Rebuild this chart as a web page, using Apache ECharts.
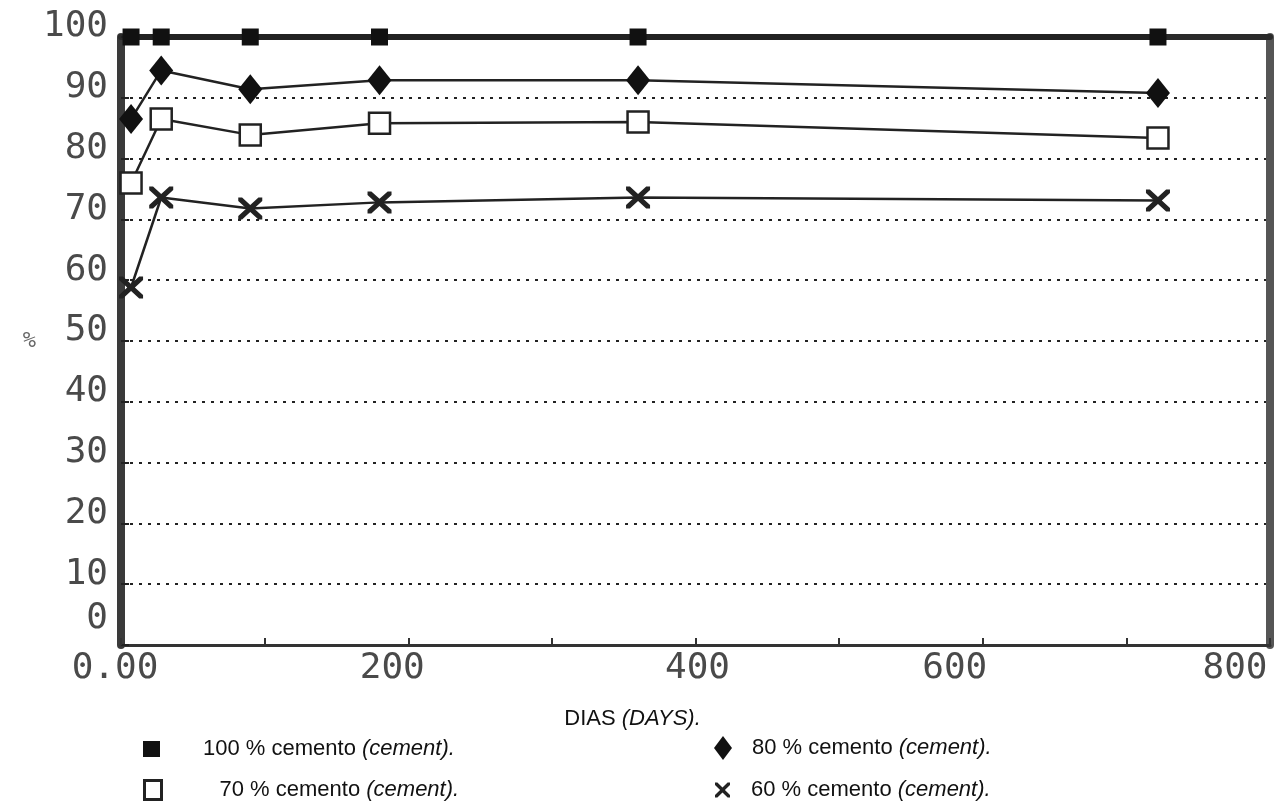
<!DOCTYPE html>
<html>
<head>
<meta charset="utf-8">
<script src="https://cdn.jsdelivr.net/npm/echarts@6/dist/echarts.min.js"></script>
<style>
  html, body { margin: 0; padding: 0; background: #fff; }
  #chart { width: 1278px; height: 808px; }
</style>
</head>
<body>
<div id="chart"></div>
<script>
// ---- data ----
const days = [7, 28, 90, 180, 360, 722];
const cem100 = [100, 100, 100, 100, 100, 100];
const cem80 = [86.5, 94.5, 91.4, 92.9, 92.9, 90.8];
const cem70 = [76.0, 86.5, 83.9, 85.8, 86.0, 83.4];
const cem60 = [58.8, 73.6, 71.8, 72.8, 73.6, 73.1];
const seriesNames = ['100 % cemento', '80 % cemento', '70 % cemento', '60 % cemento'];
const xTickValues = [0, 200, 400, 600, 800];
const xTickLabels = ['0.00', '200', '400', '600', '800'];
const yTickValues = [0, 10, 20, 30, 40, 50, 60, 70, 80, 90, 100];
const yTickLabels = ['0', '10', '20', '30', '40', '50', '60', '70', '80', '90', '100'];

// ---- styles ----
const tickFont = 'DejaVu Sans Mono';
const tickColor = '#4a4a4a';
const legendFont = 'Liberation Sans';
const xShift = {0: [0, 12, 0, 0], 200: [0, 32, 0, 0], 400: [0, 0, 0, 4], 600: [0, 56, 0, 0], 800: [0, 70, 0, 0]};
const xPathX = 'path://M0,0 L1.6,0 L5,3.4 L8.4,0 L10,0 L10,1.6 L6.6,5 L10,8.4 L10,10 L8.4,10 L5,6.6 L1.6,10 L0,10 L0,8.4 L3.4,5 L0,1.6 Z';

function pairs(xs, ys) { return xs.map((x, i) => [x, ys[i]]); }

const xRich = {};
xTickValues.forEach((v) => {
  xRich['x' + v] = { fontFamily: tickFont, fontSize: 36, color: tickColor, padding: xShift[v] };
});

const legendText = {
  fontFamily: legendFont, fontSize: 22, color: '#111', lineHeight: 24,
  rich: { i: { fontFamily: legendFont, fontSize: 22, fontStyle: 'italic', color: '#111' } }
};
function legendFmt(name) { return name + ' {i|(cement).}'; }

function makeLegend(name, left, top, icon, w, h, style, pad) {
  return {
    data: [{ name: name, icon: icon, itemStyle: style }],
    left: left, top: top, padding: 0, itemWidth: w, itemHeight: h,
    selectedMode: false, formatter: legendFmt,
    textStyle: Object.assign({}, legendText, { padding: [0, 0, 0, pad] })
  };
}

const chart = echarts.init(document.getElementById('chart'));
chart.setOption({
  animation: false,
  backgroundColor: '#fff',
  grid: { left: 121, right: 8, top: 37, bottom: 163, containLabel: false },
  xAxis: [{
    type: 'value', min: 0, max: 800, interval: 100,
    name: 'DIAS {i|(DAYS).}', nameLocation: 'middle', nameGap: 63,
    nameTextStyle: {
      fontFamily: legendFont, fontSize: 22, color: '#111', padding: [0, 126, 0, 0],
      rich: { i: { fontFamily: legendFont, fontSize: 22, fontStyle: 'italic', color: '#111' } }
    },
    axisLine: { show: true, onZero: false, lineStyle: { color: '#333', width: 3 } },
    axisTick: { show: true, inside: true, length: 7, lineStyle: { color: '#333', width: 2 } },
    axisLabel: {
      interval: 1, showMinLabel: true, showMaxLabel: true, margin: 6,
      formatter: (v) => {
        const k = xTickValues.indexOf(v);
        return k >= 0 ? '{x' + v + '|' + xTickLabels[k] + '}' : '';
      },
      rich: xRich
    },
    splitLine: { show: false }
  }, {
    type: 'value', min: 0, max: 800, interval: 100, position: 'top',
    axisLine: { show: true, onZero: false, lineStyle: { color: '#2a2a2a', width: 6 } },
    axisTick: { show: false }, axisLabel: { show: false }, splitLine: { show: false }
  }],
  yAxis: [{
    type: 'value', min: 0, max: 100, interval: 10,
    name: '%', nameLocation: 'middle', nameRotate: 0, nameGap: 85,
    nameTextStyle: { fontFamily: tickFont, fontSize: 22, color: '#666', padding: [42, 0, 0, 0] },
    axisLine: { show: true, onZero: false, lineStyle: { color: '#3a3a3a', width: 8 } },
    axisTick: { show: true, inside: true, length: 8, lineStyle: { color: '#222', width: 2 } },
    axisLabel: {
      margin: 13,
      formatter: (v) => {
        const k = yTickValues.indexOf(v);
        const t = k >= 0 ? yTickLabels[k] : '';
        return v === 0 ? '{z|' + t + '}' : '{n|' + t + '}';
      },
      rich: {
        n: { fontFamily: tickFont, fontSize: 36, color: tickColor, padding: [0, 0, 20, 0] },
        z: { fontFamily: tickFont, fontSize: 36, color: tickColor, padding: [0, 0, 52, 0] }
      }
    },
    splitLine: { show: true, lineStyle: { color: '#222', width: 2, type: [3, 6] } }
  }, {
    type: 'value', min: 0, max: 100, interval: 10, position: 'right',
    axisLine: { show: true, onZero: false, lineStyle: { color: '#555', width: 8 } },
    axisTick: { show: false }, axisLabel: { show: false }, splitLine: { show: false }
  }],
  legend: [
    makeLegend(seriesNames[0], 143, 737, 'rect', 17, 16, { color: '#111' }, 38),
    makeLegend(seriesNames[2], 143, 778, 'rect', 17, 19, { color: '#fff', borderColor: '#222', borderWidth: 3 }, 53),
    makeLegend(seriesNames[1], 714, 736, 'diamond', 18, 24, { color: '#111' }, 15),
    makeLegend(seriesNames[3], 715, 778, xPathX, 17, 15, { color: '#222' }, 15)
  ],
  series: [
    {
      name: seriesNames[0], type: 'line', data: pairs(days, cem100), clip: false, z: 5,
      symbol: 'rect', symbolSize: [17, 17],
      itemStyle: { color: '#111' }, lineStyle: { color: '#222', width: 6 }
    },
    {
      name: seriesNames[1], type: 'line', data: pairs(days, cem80), clip: false, z: 4,
      symbol: 'diamond', symbolSize: [24, 30],
      itemStyle: { color: '#111' }, lineStyle: { color: '#222', width: 2.5 }
    },
    {
      name: seriesNames[2], type: 'line', data: pairs(days, cem70), clip: false, z: 4,
      symbol: 'rect', symbolSize: [21, 21],
      itemStyle: { color: '#fff', borderColor: '#222', borderWidth: 2.5 },
      lineStyle: { color: '#222', width: 2.5 }
    },
    {
      name: seriesNames[3], type: 'line', data: pairs(days, cem60), clip: false, z: 4,
      symbol: xPathX, symbolSize: [24, 22],
      itemStyle: { color: '#222' }, lineStyle: { color: '#222', width: 2.5 }
    }
  ]
});
</script>
</body>
</html>
